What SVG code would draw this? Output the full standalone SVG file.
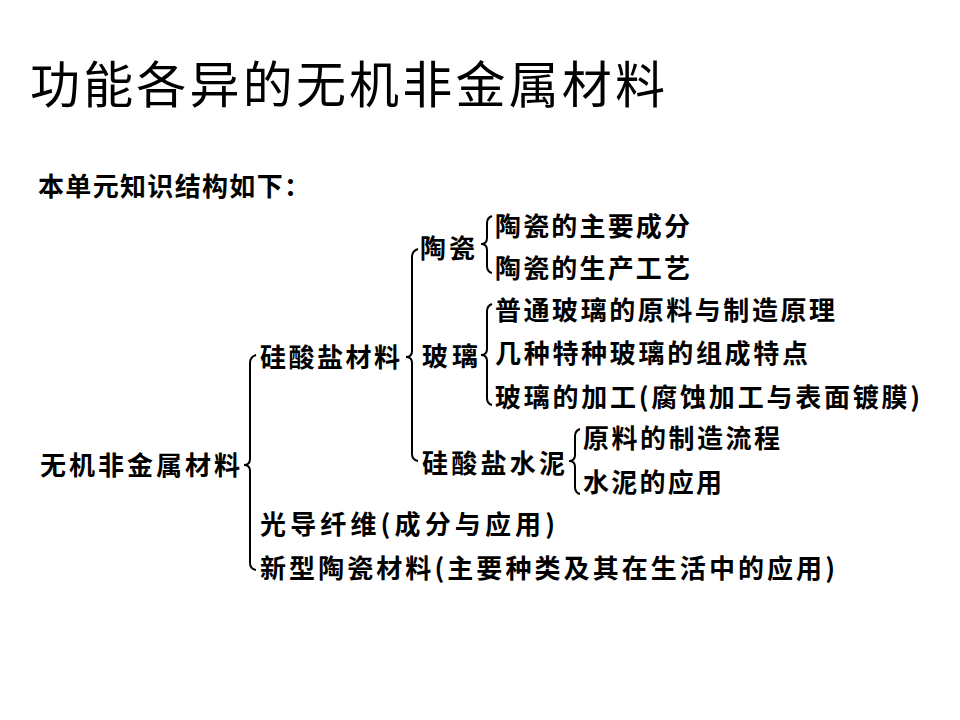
<svg xmlns="http://www.w3.org/2000/svg" width="960" height="720" viewBox="0 0 960 720">
<style>
text{font-family:"Noto Sans CJK SC","Noto Sans CJK TC",sans-serif;fill:#000}
.t{font-size:50px}
.b{font-size:26px;font-weight:bold}
.br{fill:none;stroke:#000;stroke-width:2}
</style>
<rect width="960" height="720" fill="#fff"/>
<g id="title"><text class="t" x="30" y="103" textLength="635" lengthAdjust="spacing">功能各异的无机非金属材料</text></g>
<g id="intro"><text class="b" x="38" y="196" textLength="272" lengthAdjust="spacing">本单元知识结构如下：</text></g>
<g id="root"><text class="b" x="40" y="475" textLength="200" lengthAdjust="spacing">无机非金属材料</text></g>
<g id="silicate"><text class="b" x="260" y="367" textLength="140" lengthAdjust="spacing">硅酸盐材料</text></g>
<g id="fiber"><text class="b" x="260" y="534" textLength="295" lengthAdjust="spacing">光导纤维(成分与应用)</text></g>
<g id="newceramic"><text class="b" x="260" y="578" textLength="575" lengthAdjust="spacing">新型陶瓷材料(主要种类及其在生活中的应用)</text></g>
<g id="ceramic"><text class="b" x="420" y="258" textLength="55" lengthAdjust="spacing">陶瓷</text></g>
<g id="glass"><text class="b" x="422" y="366" textLength="56" lengthAdjust="spacing">玻璃</text></g>
<g id="cement"><text class="b" x="422" y="473" textLength="143" lengthAdjust="spacing">硅酸盐水泥</text></g>
<g id="c1"><text class="b" x="495" y="236" textLength="195" lengthAdjust="spacing">陶瓷的主要成分</text></g>
<g id="c2"><text class="b" x="495" y="278" textLength="195" lengthAdjust="spacing">陶瓷的生产工艺</text></g>
<g id="g1"><text class="b" x="495" y="320" textLength="340" lengthAdjust="spacing">普通玻璃的原料与制造原理</text></g>
<g id="g2"><text class="b" x="495" y="363" textLength="313" lengthAdjust="spacing">几种特种玻璃的组成特点</text></g>
<g id="g3"><text class="b" x="495" y="407" textLength="425" lengthAdjust="spacing">玻璃的加工(腐蚀加工与表面镀膜)</text></g>
<g id="m1"><text class="b" x="583" y="448" textLength="197" lengthAdjust="spacing">原料的制造流程</text></g>
<g id="m2"><text class="b" x="583" y="492" textLength="139" lengthAdjust="spacing">水泥的应用</text></g>
<g id="connectors">
<path class="br" d="M256,355 Q250,357 250,363 L250,459 Q250,465 244,465 Q250,465 250,471 L250,563 Q250,569 256,570"/>
<path class="br" d="M418,249 Q412,251 412,257 L412,351 Q412,357 406,357 Q412,357 412,363 L412,454 Q412,460 418,461"/>
<path class="br" d="M492,216 Q487,218 487,223 L487,238 Q487,244 481,244 Q487,244 487,250 L487,266 Q487,272 492,273"/>
<path class="br" d="M492,304 Q487,306 487,311 L487,349 Q487,355 481,355 Q487,355 487,361 L487,398 Q487,404 492,405"/>
<path class="br" d="M580,429 Q575,431 575,436 L575,455 Q575,461 569,461 Q575,461 575,467 L575,487 Q575,493 580,494"/>
</g>
</svg>
